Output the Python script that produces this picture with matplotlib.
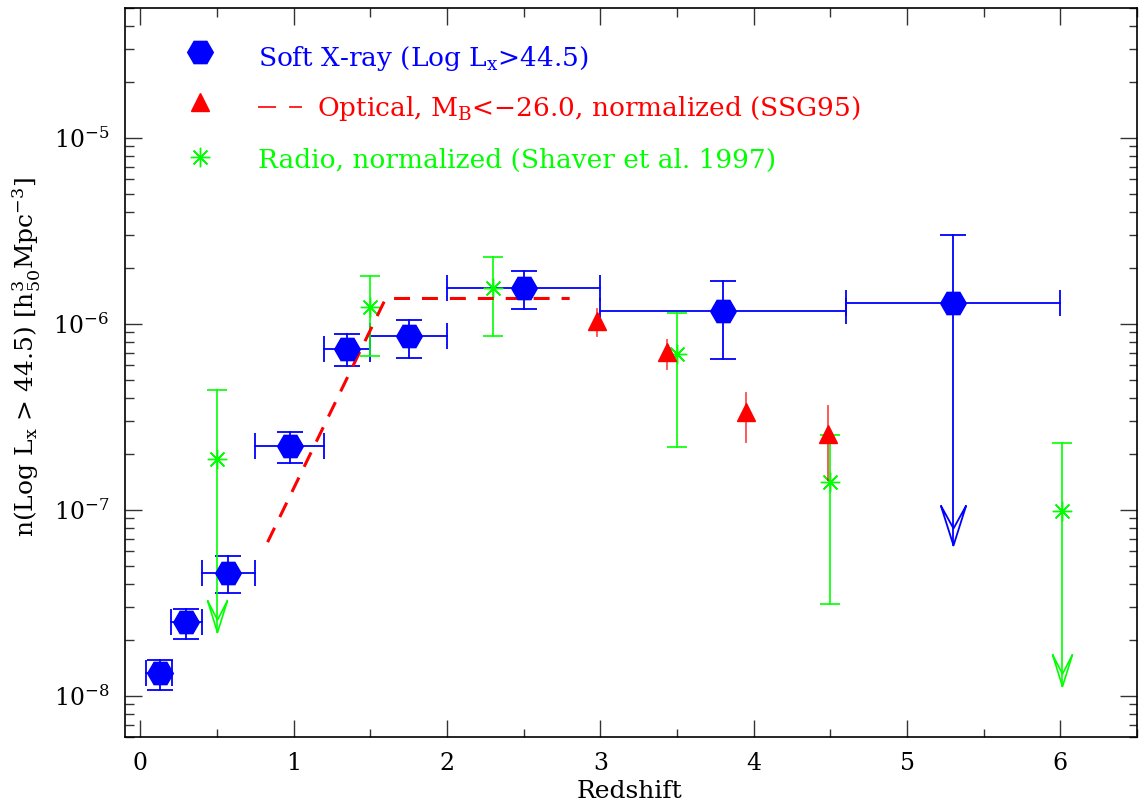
import numpy as np
import matplotlib
matplotlib.use('Agg')
import matplotlib.pyplot as plt
from matplotlib.path import Path
from matplotlib.ticker import LogLocator, MultipleLocator, NullFormatter, FixedLocator

plt.rcParams['font.family'] = ['DejaVu Serif']
plt.rcParams['mathtext.fontset'] = 'dejavuserif'
plt.rcParams['lines.scale_dashes'] = False

# ---------------- data ----------------
# Soft X-ray (Log Lx > 44.5)
xray_z = [0.126, 0.30, 0.574, 0.975, 1.349, 1.75, 2.50, 3.80, 5.30]
xray_zlo = [0.04, 0.20, 0.40, 0.747, 1.197, 1.496, 2.0, 3.0, 4.6]
xray_zhi = [0.205, 0.40, 0.747, 1.197, 1.496, 2.0, 3.0, 4.6, 6.0]
xray_n = [1.32e-8, 2.50e-8, 4.58e-8, 2.21e-7, 7.36e-7, 8.57e-7, 1.56e-6, 1.18e-6, 1.30e-6]
xray_nlo = [1.07e-8, 2.03e-8, 3.57e-8, 1.78e-7, 5.91e-7, 6.56e-7, 1.20e-6, 6.5e-7, np.nan]
xray_nhi = [1.56e-8, 2.94e-8, 5.62e-8, 2.61e-7, 8.87e-7, 1.05e-6, 1.92e-6, 1.71e-6, 3.0e-6]
xray_limit = [np.nan, np.nan, np.nan, np.nan, np.nan, np.nan, np.nan, np.nan, 6.45e-8]

# Optical, MB < -26.0, normalized (SSG95)
opt_z = [2.977, 3.436, 3.947, 4.487]
opt_n = [1.035e-6, 7.06e-7, 3.37e-7, 2.55e-7]
opt_nlo = [8.63e-7, 5.69e-7, 2.32e-7, 1.45e-7]
opt_nhi = [1.20e-6, 8.17e-7, 4.26e-7, 3.63e-7]
opt_curve_z = [0.83, 1.60, 2.80]
opt_curve_n = [6.7e-8, 1.37e-6, 1.37e-6]

# Radio, normalized (Shaver et al. 1997)
radio_z = [0.503, 1.496, 2.297, 3.497, 4.495, 6.008]
radio_n = [1.87e-7, 1.23e-6, 1.56e-6, 6.86e-7, 1.41e-7, 9.84e-8]
radio_nlo = [np.nan, 6.73e-7, 8.65e-7, 2.18e-7, 3.13e-8, np.nan]
radio_nhi = [4.4e-7, 1.80e-6, 2.28e-6, 1.15e-6, 2.52e-7, 2.3e-7]
radio_limit = [2.19e-8, np.nan, np.nan, np.nan, np.nan, 1.13e-8]

x_ticks = [0, 1, 2, 3, 4, 5, 6]
y_ticks = [1e-8, 1e-7, 1e-6, 1e-5]
y_ticklabels = [r'$\mathregular{10^{-8}}$', r'$\mathregular{10^{-7}}$',
                r'$\mathregular{10^{-6}}$', r'$\mathregular{10^{-5}}$']

BLUE = '#0000ff'
RED = '#ff0000'
GREEN = '#00ff00'

W, H = 1141, 805
DPI = 100
fig = plt.figure(figsize=(W / DPI, H / DPI), dpi=DPI)
L, R, T, B = 125, 1137, 8, 737
ax = fig.add_axes([L / W, 1 - B / H, (R - L) / W, (B - T) / H])
ax.set_yscale('log')
ax.set_xlim(-0.1, 6.5)
ax.set_ylim(6e-9, 5e-5)

PX = 72.0 / DPI  # points per pixel


def arrow_marker(w, h, d):
    verts = [(-w, h), (0, 0), (w, h), (-w, h), (0, d), (w, h)]
    codes = [Path.MOVETO, Path.LINETO, Path.LINETO, Path.MOVETO, Path.LINETO, Path.LINETO]
    return Path(verts, codes), 2 * h * PX


def draw_errors(x, y, ylo, yhi, color, cap_px, lw, xlo=None, xhi=None, limit=None,
                arrow=None):
    x = np.asarray(x, float)
    y = np.asarray(y, float)
    ylo = np.asarray(ylo, float)
    yhi = np.asarray(yhi, float)
    for i in range(len(x)):
        bottom = ylo[i]
        if limit is not None and np.isfinite(limit[i]):
            bottom = limit[i]
        ax.plot([x[i], x[i]], [bottom, yhi[i]], color=color, lw=lw, zorder=2)
    cap = 2 * cap_px * PX
    ax.plot(x, yhi, ls='none', marker='_', ms=cap, mew=lw, color=color, zorder=2)
    ax.plot(x, ylo, ls='none', marker='_', ms=cap, mew=lw, color=color, zorder=2)
    if xlo is not None:
        for i in range(len(x)):
            ax.plot([xlo[i], xhi[i]], [y[i], y[i]], color=color, lw=lw, zorder=2)
        ax.plot(xlo, y, ls='none', marker='|', ms=cap, mew=lw, color=color, zorder=2)
        ax.plot(xhi, y, ls='none', marker='|', ms=cap, mew=lw, color=color, zorder=2)
    if limit is not None and arrow is not None:
        path, ms = arrow
        ax.plot(x, limit, ls='none', marker=path, ms=ms, mfc='none', mec=color,
                mew=lw, zorder=2)


# Soft X-ray
draw_errors(xray_z, xray_n, xray_nlo, xray_nhi, BLUE, 12.8, 1.3,
            xlo=xray_zlo, xhi=xray_zhi, limit=xray_limit,
            arrow=arrow_marker(12.7, 40, 17))
ax.plot(xray_z, xray_n, ls='none', marker='H', ms=18.5, color=BLUE, zorder=4)

# Radio
draw_errors(radio_z, radio_n, radio_nlo, radio_nhi, GREEN, 10, 1.2,
            limit=radio_limit, arrow=arrow_marker(10, 32, 12.5))
ax.plot(radio_z, radio_n, ls='none', marker=(8, 2, 0), ms=14, mew=1.0,
        color=GREEN, zorder=3)

# Optical
ax.plot(opt_curve_z, opt_curve_n, color=RED, lw=2.2, ls=(0, (11.5, 8.6)), zorder=3)
for zi, lo, hi in zip(opt_z, opt_nlo, opt_nhi):
    ax.plot([zi, zi], [lo, hi], color=RED, lw=1.3, alpha=0.7, zorder=3)
ax.plot(opt_z, opt_n, ls='none', marker='^', ms=12.5, color=RED, zorder=5)

# ---------------- axes styling ----------------
ax.xaxis.set_major_locator(FixedLocator(x_ticks))
ax.xaxis.set_minor_locator(MultipleLocator(0.5))
ax.set_xticklabels([str(t) for t in x_ticks])
ax.yaxis.set_major_locator(FixedLocator(y_ticks))
ax.set_yticklabels(y_ticklabels)
ax.yaxis.set_minor_locator(LogLocator(base=10, subs=np.arange(2, 10)))
ax.yaxis.set_minor_formatter(NullFormatter())
ax.tick_params(which='both', direction='in', top=True, right=True, color='#333333')
ax.tick_params(which='major', length=17 * PX, width=1.0)
ax.tick_params(which='minor', length=8.5 * PX, width=1.0)
ax.tick_params(axis='x', which='major', pad=11, labelsize=17)
ax.tick_params(axis='y', which='major', pad=11.5, labelsize=17)
for s in ax.spines.values():
    s.set_linewidth(1.2)

fig.text(630 / W, 1 - 798 / H, 'Redshift', fontsize=18, ha='center', va='baseline')
fig.text(27 / W, 1 - 357 / H,
         r'n(Log $\mathregular{L_x}$ > 44.5) [$\mathregular{h^3_{50}}$Mpc$^{-3}$]',
         fontsize=18, rotation=90, ha='center', va='center')

# ---------------- legend ----------------
def ax_xy(px, py):
    return (px - L) / (R - L), 1 - (py - T) / (B - T)

mx, my = ax_xy(199.5, 51.7)
ax.plot([mx], [my], transform=ax.transAxes, ls='none', marker='H', ms=18.5,
        color=BLUE, clip_on=False)
mx, my = ax_xy(199.5, 101.7)
ax.plot([mx], [my], transform=ax.transAxes, ls='none', marker='^', ms=12.5,
        color=RED, clip_on=False)
mx, my = ax_xy(199.5, 156.7)
ax.plot([mx], [my], transform=ax.transAxes, ls='none', marker=(8, 2, 0), ms=14,
        mew=1.0, color=GREEN, clip_on=False)

LFS = 19
tx, ty = ax_xy(258, 65.7)
ax.text(tx, ty, r'Soft X-ray (Log $\mathregular{L_x}$>44.5)', transform=ax.transAxes,
        color=BLUE, fontsize=LFS, va='baseline', ha='left')
x0, dy = ax_xy(258, 107.3)
x1, _ = ax_xy(302, 107.3)
ax.plot([x0, x1], [dy, dy], transform=ax.transAxes, color=RED, lw=1.2,
        ls=(0, (13, 9.4)))
tx, ty = ax_xy(316.7, 116)
ax.text(tx, ty, r'Optical, $\mathregular{M_B}$<−26.0, normalized (SSG95)',
        transform=ax.transAxes, color=RED, fontsize=LFS, va='baseline', ha='left')
tx, ty = ax_xy(258, 168.3)
ax.text(tx, ty, 'Radio, normalized (Shaver et al. 1997)', transform=ax.transAxes,
        color=GREEN, fontsize=LFS, va='baseline', ha='left')

fig.savefig('out.png', dpi=DPI)
